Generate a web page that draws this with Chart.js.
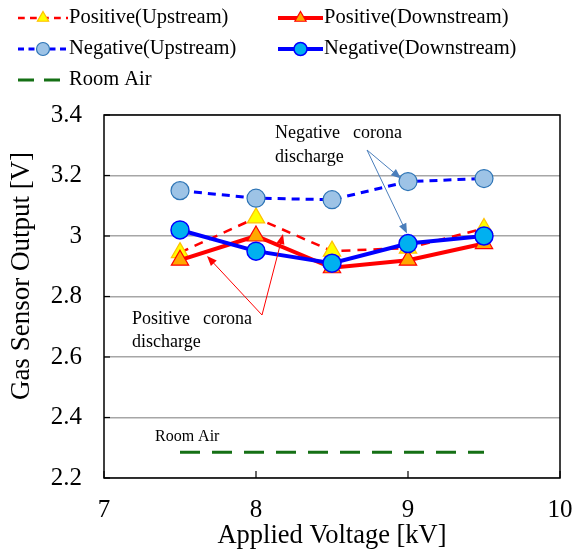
<!DOCTYPE html>
<html>
<head>
<meta charset="utf-8">
<script src="https://cdn.jsdelivr.net/npm/chart.js@4/dist/chart.umd.min.js"></script>
<style>
  body { margin: 0; background: #fff; }
</style>
</head>
<body>
<canvas id="gasChart" width="576" height="552"></canvas>
<script>
// data
const voltages = [7.5, 8, 8.5, 9, 9.5];
const posUpstream = [2.945, 3.06, 2.95, 2.96, 3.025];
const posDownstream = [2.92, 3.0, 2.895, 2.92, 2.975];
const negUpstream = [3.15, 3.125, 3.12, 3.18, 3.19];
const negDownstream = [3.02, 2.95, 2.91, 2.975, 3.0];
const roomAir = [2.285, 2.285, 2.285, 2.285, 2.285];
const yTickValues = [2.2, 2.4, 2.6, 2.8, 3.0, 3.2, 3.4];
const xTickValues = [7, 8, 9, 10];

const FONT = "'Liberation Serif', 'Times New Roman', serif";

function pts(values) {
    return voltages.map((v, i) => ({ x: v, y: values[i] }));
}

let datasets = [
    {
        label: 'Positive(Upstream)', data: pts(posUpstream), order: 4,
        borderColor: '#ff0000', borderWidth: 2.5, borderDash: [9, 7],
        pointStyle: 'triangle', pointRadius: 10, pointBackgroundColor: '#ffff00',
        pointBorderColor: '#ffc000', pointBorderWidth: 1.2
    },
    {
        label: 'Positive(Downstream)', data: pts(posDownstream), order: 2,
        borderColor: '#ff0000', borderWidth: 4,
        pointStyle: 'triangle', pointRadius: 10, pointBackgroundColor: '#ffa800',
        pointBorderColor: '#ff0000', pointBorderWidth: 1.2
    },
    {
        label: 'Negative(Upstream)', data: pts(negUpstream), order: 3,
        borderColor: '#0000ff', borderWidth: 3, borderDash: [8, 6],
        pointStyle: 'circle', pointRadius: 9, pointBackgroundColor: '#9dc3e6',
        pointBorderColor: '#2e75b6', pointBorderWidth: 1.2
    },
    {
        label: 'Negative(Downstream)', data: pts(negDownstream), order: 1,
        borderColor: '#0000ff', borderWidth: 4,
        pointStyle: 'circle', pointRadius: 9, pointBackgroundColor: '#00b0f0',
        pointBorderColor: '#0000ff', pointBorderWidth: 1.5
    },
    {
        label: 'Room Air', data: pts(roomAir), order: 5,
        borderColor: '#157015', borderWidth: 3, borderDash: [20, 12],
        pointRadius: 0
    }
];
datasets.forEach(d => { d.tension = 0; d.fill = false; d.showLine = true; });

function arrow(ctx, x1, y1, x2, y2, color) {
    let ang = Math.atan2(y2 - y1, x2 - x1);
    ctx.save();
    ctx.strokeStyle = color;
    ctx.fillStyle = color;
    ctx.lineWidth = 1;
    ctx.setLineDash([]);
    ctx.beginPath();
    ctx.moveTo(x1, y1);
    ctx.lineTo(x2 - 8 * Math.cos(ang), y2 - 8 * Math.sin(ang));
    ctx.stroke();
    ctx.beginPath();
    ctx.moveTo(x2, y2);
    ctx.lineTo(x2 - 10 * Math.cos(ang) + 4 * Math.sin(ang), y2 - 10 * Math.sin(ang) - 4 * Math.cos(ang));
    ctx.lineTo(x2 - 10 * Math.cos(ang) - 4 * Math.sin(ang), y2 - 10 * Math.sin(ang) + 4 * Math.cos(ang));
    ctx.closePath();
    ctx.fill();
    ctx.restore();
}

const extras = {
    id: 'extras',
    afterDatasetsDraw(chart) {
        const ctx = chart.ctx;
        const a = chart.chartArea;
        const xs = chart.scales.x, ys = chart.scales.y;
        ctx.save();
        // inner ticks
        ctx.strokeStyle = '#000';
        ctx.lineWidth = 1.2;
        yTickValues.forEach(v => {
            let y = ys.getPixelForValue(v);
            ctx.beginPath(); ctx.moveTo(a.left, y); ctx.lineTo(a.left + 6, y); ctx.stroke();
        });
        xTickValues.forEach(v => {
            let x = xs.getPixelForValue(v);
            ctx.beginPath(); ctx.moveTo(x, a.bottom); ctx.lineTo(x, a.bottom - 7); ctx.stroke();
        });
        // box
        ctx.lineWidth = 1.5;
        ctx.strokeRect(a.left, a.top, a.right - a.left, a.bottom - a.top);

        // annotations
        ctx.fillStyle = '#000';
        ctx.font = '18px ' + FONT;
        ctx.textBaseline = 'middle';
        ctx.textAlign = 'left';
        ctx.fillText('Negative', 275, 133);
        ctx.textAlign = 'right';
        ctx.fillText('corona', 402, 133);
        ctx.textAlign = 'left';
        ctx.fillText('discharge', 275, 157);
        ctx.fillText('Positive', 132, 319);
        ctx.textAlign = 'right';
        ctx.fillText('corona', 252, 319);
        ctx.textAlign = 'left';
        ctx.fillText('discharge', 132, 342);
        ctx.font = '16px ' + FONT;
        ctx.fillText('Room Air', 155, 437);

        arrow(ctx, 367, 150, xs.getPixelForValue(9) - 7, ys.getPixelForValue(negUpstream[3]) - 3, '#4a7ebb');
        arrow(ctx, 367, 150, xs.getPixelForValue(9) - 1, ys.getPixelForValue(negDownstream[3]) - 10, '#4a7ebb');
        arrow(ctx, 262, 315, 207, 256, '#ff0000');
        arrow(ctx, 262, 315, 283, 234, '#ff0000');
        ctx.restore();
    },
    afterDraw(chart) {
        const ctx = chart.ctx;
        ctx.save();
        // y axis title
        ctx.translate(22, 276);
        ctx.rotate(-Math.PI / 2);
        ctx.font = '27px ' + FONT;
        ctx.fillStyle = '#000';
        ctx.textAlign = 'center';
        ctx.textBaseline = 'middle';
        ctx.fillText('Gas Sensor Output [V]', 0, 0);
        ctx.restore();

        // legend
        const slots = [
            [0, 18, 18, 68], [1, 278, 18, 323],
            [2, 18, 49, 68], [3, 278, 49, 323],
            [4, 18, 80, 68]
        ];
        slots.forEach(s => {
            const ds = chart.data.datasets[s[0]];
            const x0 = s[1], y = s[2], x1 = s[3];
            ctx.save();
            ctx.strokeStyle = ds.borderColor;
            ctx.lineWidth = ds.borderWidth;
            let dash = ds.borderDash ? ds.borderDash.map(d => d * 0.75) : [];
            if (s[0] === 4) dash = [16, 10];
            ctx.setLineDash(dash);
            ctx.beginPath(); ctx.moveTo(x0, y); ctx.lineTo(x1, y); ctx.stroke();
            if (ds.pointRadius > 0) {
                ctx.setLineDash([]);
                ctx.fillStyle = ds.pointBackgroundColor;
                ctx.strokeStyle = ds.pointBorderColor;
                ctx.lineWidth = ds.pointBorderWidth;
                Chart.helpers.drawPoint(ctx, { pointStyle: ds.pointStyle, radius: 6.5, rotation: 0, borderWidth: ds.pointBorderWidth }, (x0 + x1) / 2, y);
            }
            ctx.fillStyle = '#000';
            ctx.font = '20.5px ' + FONT;
            ctx.textAlign = 'left';
            ctx.textBaseline = 'middle';
            ctx.fillText(ds.label, x1 + 1, y);
            ctx.restore();
        });
    }
};

new Chart(document.getElementById('gasChart'), {
    type: 'scatter',
    data: { datasets: datasets },
    options: {
        responsive: false,
        animation: false,
        devicePixelRatio: 1,
        layout: { padding: { top: 115, right: 16, left: 0, bottom: 0 } },
        plugins: { legend: { display: false }, tooltip: { enabled: false } },
        scales: {
            x: {
                type: 'linear', min: 7, max: 10,
                afterFit: s => { s.height = 74; s.paddingLeft = 0; s.paddingRight = 0; },
                afterBuildTicks: s => { s.ticks = xTickValues.map(v => ({ value: v })); },
                grid: { display: false, drawTicks: false },
                border: { display: false },
                ticks: { color: '#000', padding: 17, font: { family: FONT, size: 25 } },
                title: { display: true, text: 'Applied Voltage [kV]', color: '#000', padding: { top: 0, bottom: 0 }, font: { family: FONT, size: 26.5 } }
            },
            y: {
                min: 2.2, max: 3.4,
                afterFit: s => { s.width = 104; s.paddingTop = 0; s.paddingBottom = 0; },
                afterBuildTicks: s => { s.ticks = yTickValues.map(v => ({ value: v })); },
                grid: { color: '#a6a6a6', lineWidth: 1.5, drawTicks: false },
                border: { display: false },
                ticks: {
                    color: '#000', padding: 22, font: { family: FONT, size: 25 },
                    callback: v => String(+v.toFixed(1))
                }
            }
        }
    },
    plugins: [extras]
});
</script>
</body>
</html>
